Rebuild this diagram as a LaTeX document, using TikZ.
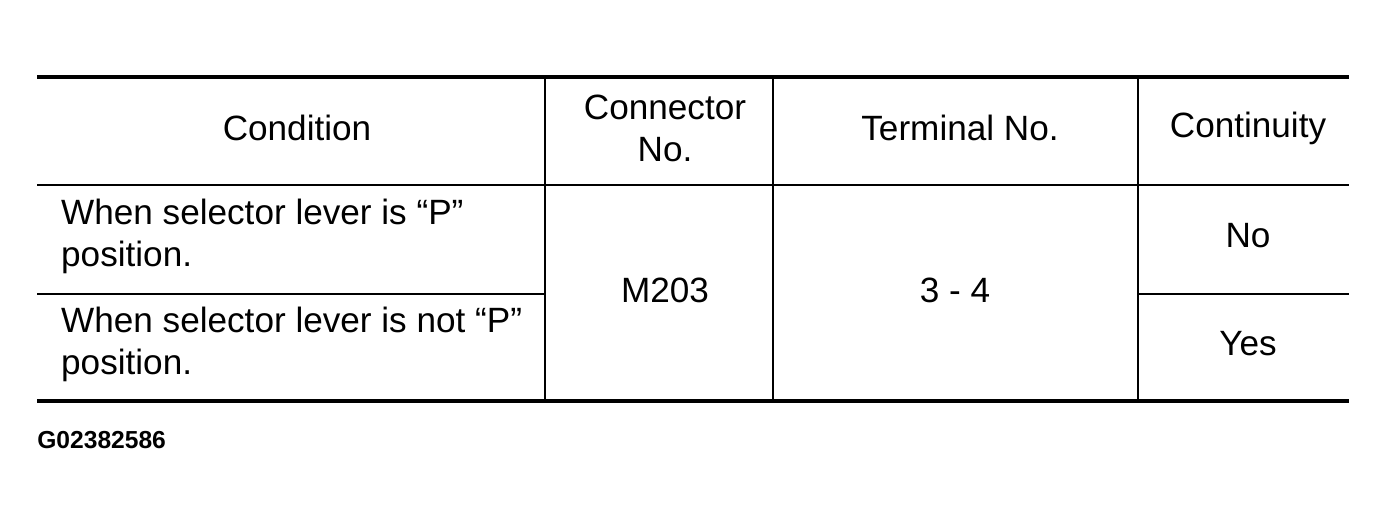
\documentclass[tikz,border=0pt]{standalone}
\usepackage{fontspec}
\setmainfont{Liberation Sans}
\usepackage{tikz}
\begin{document}
\begin{tikzpicture}[x=0.02cm,y=-0.02cm,
	cell/.style={font=\fontsize{20}{24}\selectfont,align=center},
	lcell/.style={font=\fontsize{20}{24}\selectfont,align=left,anchor=west},
	rule/.style={line width=2.8pt},
	grid/.style={line width=0.9pt}]
		\useasboundingbox (0,0) rectangle (1387,524);
		\path (37,77) coordinate (tl);
		\path (1349,77) coordinate (tr);
		\path (37,401) coordinate (bl);
		\path (1349,401) coordinate (br);
		\path (37,185) coordinate (hl);
		\path (1349,185) coordinate (hr);
		\path (37,294) coordinate (ml);
		\path (545,294) coordinate (mc);
		\path (1138,294) coordinate (md);
		\path (1349,294) coordinate (mr);

		\draw[grid] (hl) -- (hr);
		\draw[grid] (ml) -- (mc);
		\draw[grid] (md) -- (mr);
		\foreach \x in {545,773,1138}
			\draw[grid] (\x,77) -- (\x,401);
		\draw[rule] (tl) -- (tr);
		\draw[rule] (bl) -- (br);

		\node[cell] (cond) at (297,128) {Condition};
		\node[cell] (conn) at (665,128) {Connector\\No.};
		\node[cell] (term) at (960,128) {Terminal No.};
		\node[cell] (cont) at (1248,128) {Continuity};
		\node[lcell] (rowp) at (55,236) {When selector lever is “P”\\position.};
		\node[lcell] (rownp) at (55,344) {When selector lever is not “P”\\position.};
		\node[cell] (m203) at (665,290) {M203};
		\node[cell] (pins) at (955,290) {3 - 4};
		\node[cell] (no) at (1248,236) {No};
		\node[cell] (yes) at (1248,344) {Yes};
		\node[anchor=west,font=\bfseries\fontsize{14}{16}\selectfont,inner sep=0pt] (fig) at (37,440) {G02382586};
	\end{tikzpicture}
\end{document}
